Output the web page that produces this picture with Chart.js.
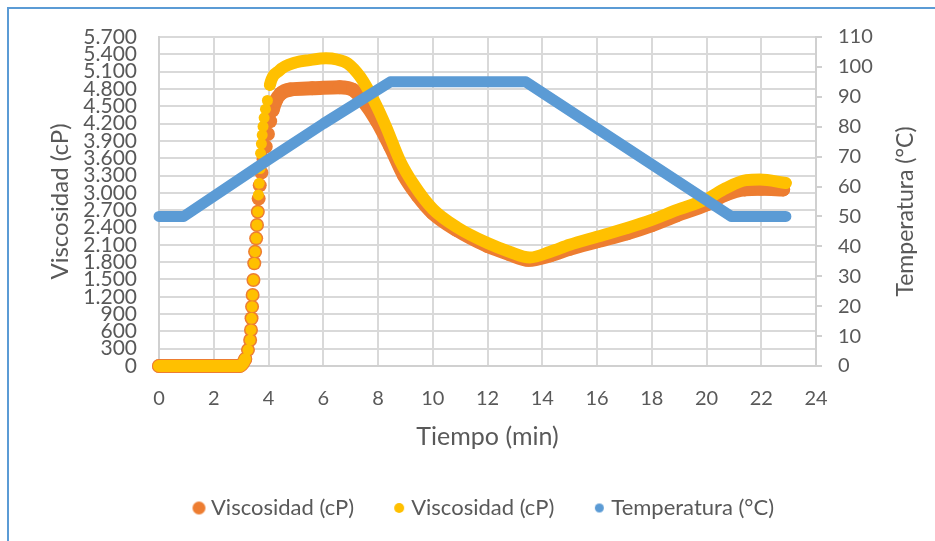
<!DOCTYPE html>
<html>
<head>
<meta charset="utf-8">
<script src="https://cdn.jsdelivr.net/npm/chart.js@4.4.1/dist/chart.umd.min.js"></script>
<style>
html, body { margin: 0; padding: 0; background: #fff; overflow: hidden; width: 935px; height: 541px; }
.marco { position: absolute; left: 7px; top: 7px; width: 1200px; height: 900px; border: 2px solid #5b9bd5; }
canvas { position: absolute; left: 0; top: 0; }
</style>
</head>
<body>
<div class="marco"></div>
<canvas id="grafico" width="935" height="541"></canvas>
<script>
// valores
const tiempoNaranja = [0, 2.95, 3.15, 3.25, 3.33, 3.36, 3.38, 3.40, 3.42, 3.45, 3.48, 3.51, 3.55, 3.58, 3.61, 3.64, 3.68, 3.74, 3.82, 3.9, 3.98, 4.06, 4.15, 4.27, 4.45, 4.8, 5.6, 6.6, 7.1, 7.45, 7.95, 8.45, 8.95, 9.45, 10.0, 10.9, 12.0, 12.8, 13.5, 14.3, 15.0, 16.0, 17.1, 18.0, 18.9, 20.0, 20.7, 21.4, 22.0, 22.8]
const viscNaranja = [0, 0, 120, 280, 450, 624, 826, 1028, 1230, 1490, 1779, 1980, 2212, 2443, 2673, 2900, 3130, 3350, 3580, 3800, 4020, 4240, 4430, 4600, 4720, 4790, 4810, 4830, 4780, 4600, 4250, 3800, 3300, 2950, 2650, 2350, 2080, 1940, 1840, 1920, 2030, 2160, 2300, 2440, 2610, 2800, 2970, 3060, 3070, 3060]

const tiempoAmarillo = [0, 2.95, 3.15, 3.25, 3.33, 3.36, 3.38, 3.40, 3.42, 3.45, 3.48, 3.51, 3.55, 3.58, 3.61, 3.63, 3.66, 3.69, 3.71, 3.74, 3.77, 3.8, 3.84, 3.89, 3.96, 4.05, 4.4, 5.0, 5.5, 6.1, 6.5, 6.9, 7.35, 7.85, 8.3, 8.8, 9.3, 10.0, 10.9, 12.0, 12.8, 13.55, 14.3, 15.0, 16.0, 17.1, 18.0, 18.9, 20.0, 20.7, 21.45, 21.95, 22.9]
const viscAmarillo = [0, 0, 120, 280, 450, 624, 826, 1028, 1230, 1490, 1779, 1980, 2212, 2443, 2673, 2963, 3165, 3420, 3685, 3850, 4000, 4150, 4300, 4450, 4600, 4870, 5120, 5260, 5300, 5330, 5310, 5240, 5010, 4600, 4140, 3560, 3150, 2720, 2400, 2130, 1980, 1880, 1980, 2100, 2240, 2390, 2530, 2700, 2890, 3080, 3220, 3230, 3170]

const tiempoTemp = [0, 0.9, 4, 6, 8.45, 13.4, 20.9, 22.9]
const temperatura = [50, 50, 69, 81, 95, 95, 50, 50]

const etiquetas = ['Viscosidad (cP)', 'Viscosidad (cP)', 'Temperatura (°C)']
const tituloX = 'Tiempo (min)'
const tituloY = 'Viscosidad (cP)'
const tituloY1 = 'Temperatura (°C)'

const NARANJA = '#ed7d31'
const AMARILLO = '#ffc000'
const AZUL = '#5b9bd5'
const TEXTO = '#595959'

Chart.defaults.font.family = 'Lato'
Chart.defaults.color = TEXTO

const aPuntos = (xs, ys) => xs.map((x, i) => ({x: x, y: ys[i]}))

// "5700" -> "5.700"
const miles = (v) => String(v).replace(/\B(?=(\d{3})+(?!\d))/g, '.')

// en la subida casi vertical solo se ven los marcadores sueltos
const tramo = (color) => (ctx) => {
    const dx = Math.abs(ctx.p1.x - ctx.p0.x)
    const dy = Math.abs(ctx.p1.y - ctx.p0.y)
    return (dy > 3 * dx && dy < 25) ? 'rgba(0,0,0,0)' : color
}

const punto = (r, color) => {
    const c = document.createElement('canvas')
    c.width = c.height = Math.ceil(r * 2) + 2
    const g = c.getContext('2d')
    g.fillStyle = color
    g.beginPath()
    g.arc(c.width / 2, c.height / 2, r, 0, Math.PI * 2)
    g.fill()
    return c
}
const marcas = [punto(6.5, NARANJA), punto(5, AMARILLO), punto(4.5, AZUL)]

// el titulo del eje derecho se lee de abajo arriba, como el izquierdo
const tituloDerecho = {
    id: 'tituloDerecho',
    afterDraw(chart) {
        const ctx = chart.ctx
        const eje = chart.scales.y1
        const area = chart.chartArea
        ctx.save()
        ctx.translate(eje.right - 21, (area.top + area.bottom) / 2 + 10)
        ctx.rotate(-Math.PI / 2)
        ctx.font = '23px Lato'
        ctx.fillStyle = TEXTO
        ctx.textAlign = 'center'
        ctx.textBaseline = 'middle'
        ctx.fillText(tituloY1, 0, 0)
        ctx.restore()
    }
}

const data = {
    datasets: [{
        label: etiquetas[0],
        data: aPuntos(tiempoNaranja, viscNaranja),
        yAxisID: 'y',
        order: 3,
        clip: 12,
        showLine: true,
        borderColor: NARANJA,
        backgroundColor: NARANJA,
        borderWidth: 14,
        borderCapStyle: 'round',
        borderJoinStyle: 'round',
        cubicInterpolationMode: 'monotone',
        pointRadius: 7,
        pointBorderWidth: 0,
        segment: {borderColor: tramo(NARANJA)}
    }, {
        label: etiquetas[1],
        data: aPuntos(tiempoAmarillo, viscAmarillo),
        yAxisID: 'y',
        order: 2,
        clip: 12,
        showLine: true,
        borderColor: AMARILLO,
        backgroundColor: AMARILLO,
        borderWidth: 12,
        borderCapStyle: 'round',
        borderJoinStyle: 'round',
        cubicInterpolationMode: 'monotone',
        pointRadius: 5.5,
        pointBorderWidth: 0,
        segment: {borderColor: tramo(AMARILLO)}
    }, {
        label: etiquetas[2],
        data: aPuntos(tiempoTemp, temperatura),
        yAxisID: 'y1',
        order: 1,
        clip: 12,
        showLine: true,
        borderColor: AZUL,
        backgroundColor: AZUL,
        borderWidth: 11,
        borderCapStyle: 'round',
        borderJoinStyle: 'round',
        pointRadius: 0
    }]
}

const config = {
    type: 'scatter',
    data: data,
    plugins: [tituloDerecho],
    options: {
        responsive: false,
        animation: false,
        layout: {padding: {left: 45, right: 8, top: 37, bottom: 12}},
        plugins: {
            tooltip: {enabled: false},
            legend: {
                position: 'bottom',
                labels: {
                    usePointStyle: true,
                    boxWidth: 2,
                    boxHeight: 2,
                    padding: 44,
                    color: TEXTO,
                    font: {size: 22},
                    sort: (a, b) => a.datasetIndex - b.datasetIndex,
                    generateLabels: (chart) => chart.data.datasets.map((ds, i) => ({
                        text: ds.label,
                        pointStyle: marcas[i],
                        fillStyle: ds.backgroundColor,
                        strokeStyle: ds.borderColor,
                        lineWidth: 0,
                        hidden: false,
                        datasetIndex: i,
                        fontColor: TEXTO
                    }))
                }
            }
        },
        scales: {
            x: {
                type: 'linear',
                min: 0,
                max: 24,
                ticks: {stepSize: 2, padding: 21, color: TEXTO, font: {size: 20}},
                grid: {color: '#d9d9d9', lineWidth: 2, drawTicks: false},
                border: {color: '#d0d0d0', width: 2},
                title: {display: true, text: tituloX, color: TEXTO, font: {size: 25, lineHeight: 1}, padding: {top: 0, bottom: 3.5}},
                afterFit: (s) => { s.height = 87 }
            },
            y: {
                position: 'left',
                min: 0,
                max: 5700,
                ticks: {stepSize: 300, autoSkip: false, padding: 22, color: TEXTO, font: {size: 21}, callback: miles},
                grid: {color: '#d9d9d9', lineWidth: 2, drawTicks: false},
                border: {color: '#d0d0d0', width: 2},
                title: {display: true, text: tituloY, color: TEXTO, font: {size: 24, lineHeight: 1}, padding: {top: 3, bottom: 0}},
                afterFit: (s) => { s.width = 114 }
            },
            y1: {
                position: 'right',
                min: 0,
                max: 110,
                ticks: {stepSize: 10, autoSkip: false, padding: 16, color: TEXTO, font: {size: 20}},
                grid: {drawOnChartArea: false, drawTicks: true, tickLength: 6, color: '#d0d0d0', lineWidth: 2},
                border: {color: '#d0d0d0', width: 2},
                title: {display: false, text: tituloY1},
                afterFit: (s) => { s.width = 111 }
            }
        }
    }
}

const grafico = new Chart(document.getElementById('grafico').getContext('2d'), config)
</script>
</body>
</html>
